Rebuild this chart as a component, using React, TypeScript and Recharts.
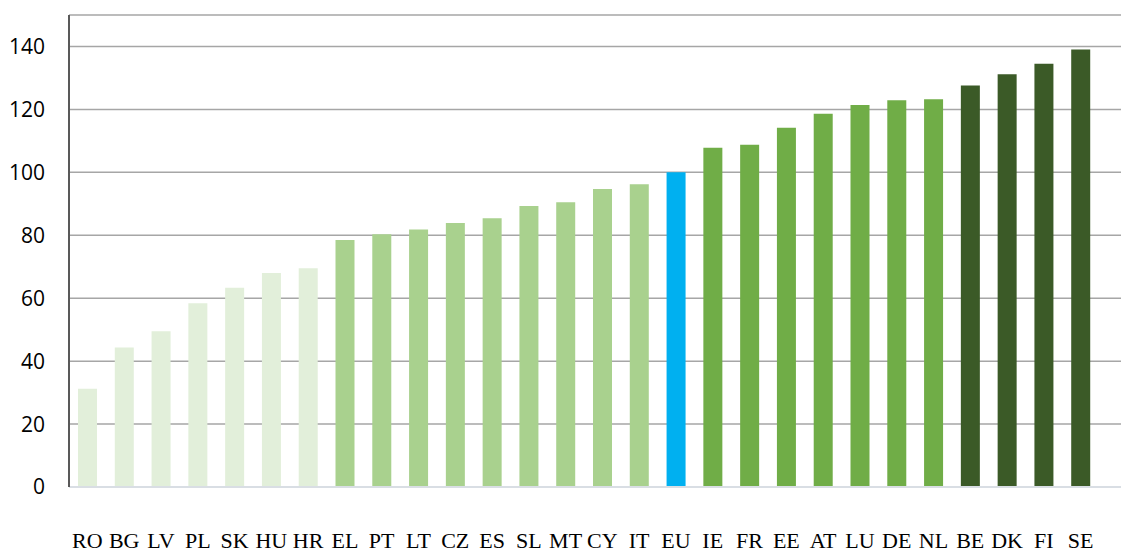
import { BarChart, Bar, XAxis, YAxis, CartesianGrid, Cell } from 'recharts';

const countries = ['RO', 'BG', 'LV', 'PL', 'SK', 'HU', 'HR', 'EL', 'PT', 'LT', 'CZ', 'ES', 'SL', 'MT', 'CY', 'IT', 'EU', 'IE', 'FR', 'EE', 'AT', 'LU', 'DE', 'NL', 'BE', 'DK', 'FI', 'SE'];
const scores = [31.2, 44.3, 49.5, 58.4, 63.3, 68.0, 69.5, 78.5, 80.3, 81.8, 83.9, 85.4, 89.3, 90.5, 94.7, 96.2, 100, 107.8, 108.8, 114.2, 118.6, 121.4, 122.9, 123.2, 127.6, 131.2, 134.5, 139.0];
// 0 = lowest group, 1 = below average, 2 = EU average, 3 = above average, 4 = top group
const groups = [0, 0, 0, 0, 0, 0, 0, 1, 1, 1, 1, 1, 1, 1, 1, 1, 2, 3, 3, 3, 3, 3, 3, 3, 4, 4, 4, 4];
const yTicks = [0, 20, 40, 60, 80, 100, 120, 140];

const groupColors = ['#E2EFDA', '#A9D18E', '#00B0F0', '#70AD47', '#3B5A27'];

const data = countries.map((c, i) => ({ country: c, score: scores[i], group: groups[i] }));

export default function App() {
  return (
    <div style={{ position: 'absolute', left: 0, top: 0, width: 1121, height: 554, background: '#fff', overflow: 'hidden' }}>
      <BarChart width={1121} height={554} data={data} margin={{ top: 15, right: 0, left: 0, bottom: 0 }}>
        <CartesianGrid vertical={false} stroke="#A6A6A6" strokeWidth={1.5} />
        <XAxis
          dataKey="country"
          height={67}
          interval={0}
          padding={{ left: 0, right: 22 }}
          axisLine={{ stroke: '#D9DEE4', strokeWidth: 2 }}
          tickLine={false}
          tickMargin={39}
          tick={{ fontSize: 22, fill: '#000', fontFamily: '"Liberation Serif", serif' }}
        />
        <YAxis
          width={69}
          domain={[0, 150]}
          ticks={yTicks}
          interval={0}
          axisLine={{ stroke: '#595959', strokeWidth: 2 }}
          tickLine={false}
          tickMargin={18}
          tick={{ fontSize: 21, fill: '#000', fontFamily: '"Open Sans", sans-serif' }}
        />
        <Bar dataKey="score" barSize={19} isAnimationActive={false}>
          {data.map((d) => (
            <Cell key={d.country} fill={groupColors[d.group]} />
          ))}
        </Bar>
      </BarChart>
    </div>
  );
}
